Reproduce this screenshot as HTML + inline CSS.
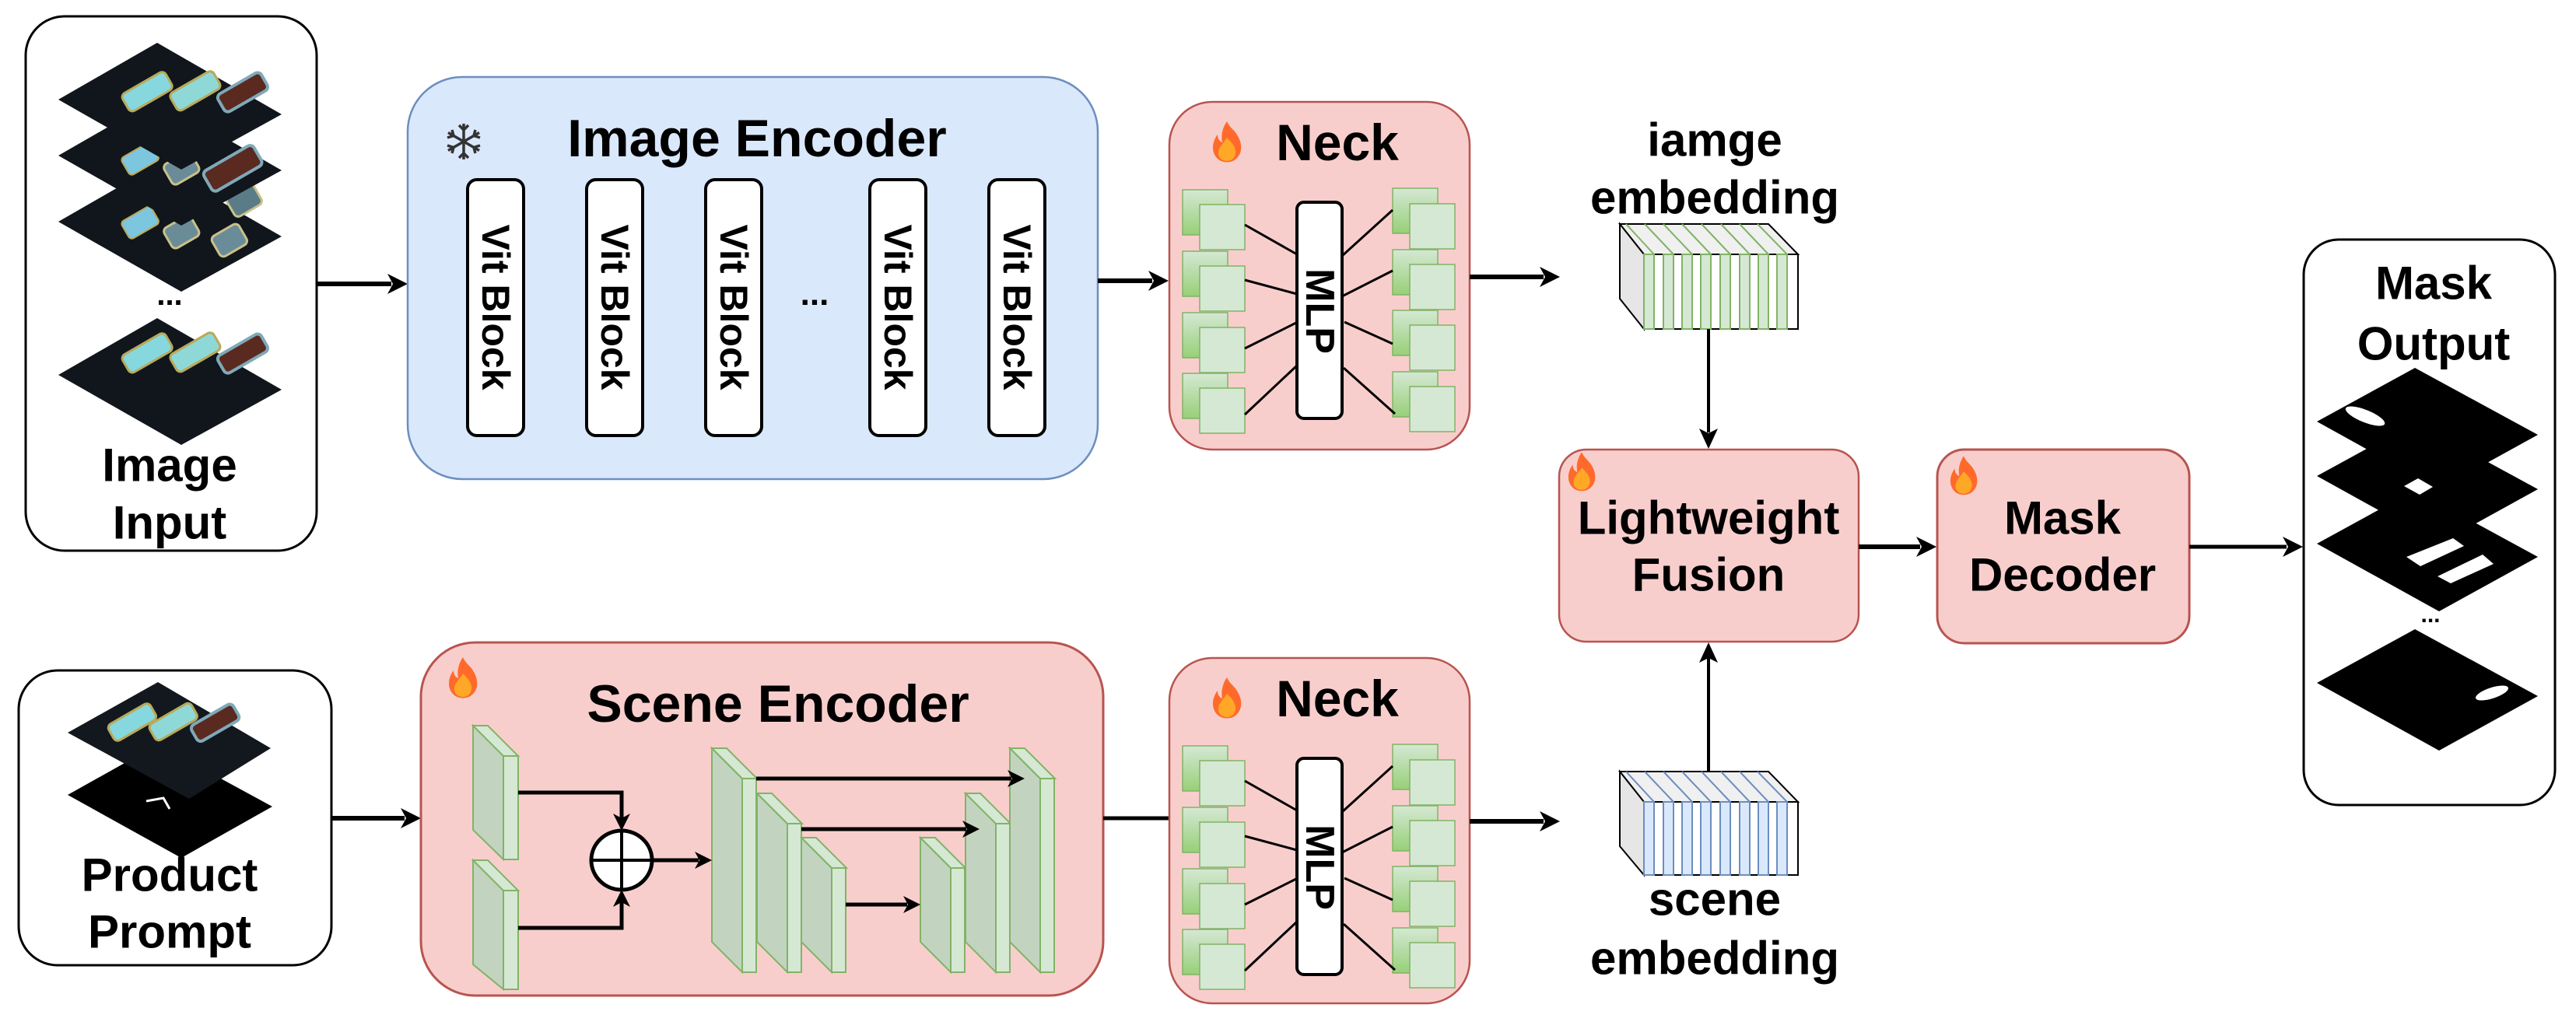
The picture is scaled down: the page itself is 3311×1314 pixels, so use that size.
<!DOCTYPE html>
<html><head><meta charset="utf-8">
<style>
html,body{margin:0;padding:0;background:#fff;}
svg{display:block;}
text{font-family:"Liberation Sans",Arial,sans-serif;font-weight:bold;fill:#000;}
</style></head>
<body>
<svg width="3311" height="1314" viewBox="0 0 3311 1314" xmlns="http://www.w3.org/2000/svg">
<defs>
  <g id="flame">
    <path d="M0,-27 C4,-18 10,-16 14,-8 C20,2 20,14 12,21 C6,27 -6,27 -12,21 C-20,14 -20,0 -12,-10 C-12,-4 -9,-1 -6,0 C-8,-10 -5,-20 0,-27Z" fill="#ff6a2b"/>
    <path d="M0,-6 C6,0 12,6 11,14 C10,21 5,24 0,24 C-5,24 -11,21 -11,14 C-11,6 -5,2 0,-6Z" fill="#ffa726"/>
  </g>
  <linearGradient id="gsq" x1="0" y1="0" x2="0" y2="1">
    <stop offset="0" stop-color="#d5e8d4"/><stop offset="1" stop-color="#97d077"/>
  </linearGradient>
  <g id="neckInner">
    <rect x="1520" y="244" width="58" height="58" fill="url(#gsq)" stroke="#82b366" stroke-width="1.5"/>
    <rect x="1542" y="263" width="58" height="58" fill="#d5e8d4" stroke="#82b366" stroke-width="1.5"/>
    <rect x="1520" y="323" width="58" height="58" fill="url(#gsq)" stroke="#82b366" stroke-width="1.5"/>
    <rect x="1542" y="342" width="58" height="58" fill="#d5e8d4" stroke="#82b366" stroke-width="1.5"/>
    <rect x="1520" y="402" width="58" height="58" fill="url(#gsq)" stroke="#82b366" stroke-width="1.5"/>
    <rect x="1542" y="421" width="58" height="58" fill="#d5e8d4" stroke="#82b366" stroke-width="1.5"/>
    <rect x="1520" y="480" width="58" height="58" fill="url(#gsq)" stroke="#82b366" stroke-width="1.5"/>
    <rect x="1542" y="499" width="58" height="58" fill="#d5e8d4" stroke="#82b366" stroke-width="1.5"/>
    <rect x="1790" y="242" width="58" height="58" fill="url(#gsq)" stroke="#82b366" stroke-width="1.5"/>
    <rect x="1812" y="262" width="58" height="58" fill="#d5e8d4" stroke="#82b366" stroke-width="1.5"/>
    <rect x="1790" y="321" width="58" height="58" fill="url(#gsq)" stroke="#82b366" stroke-width="1.5"/>
    <rect x="1812" y="340" width="58" height="58" fill="#d5e8d4" stroke="#82b366" stroke-width="1.5"/>
    <rect x="1790" y="399" width="58" height="58" fill="url(#gsq)" stroke="#82b366" stroke-width="1.5"/>
    <rect x="1812" y="418" width="58" height="58" fill="#d5e8d4" stroke="#82b366" stroke-width="1.5"/>
    <rect x="1790" y="478" width="58" height="58" fill="url(#gsq)" stroke="#82b366" stroke-width="1.5"/>
    <rect x="1812" y="497" width="58" height="58" fill="#d5e8d4" stroke="#82b366" stroke-width="1.5"/>
    <g stroke="#000" stroke-width="3">
      <line x1="1600" y1="289" x2="1667" y2="327"/>
      <line x1="1600" y1="360" x2="1667" y2="378"/>
      <line x1="1600" y1="448" x2="1670" y2="413"/>
      <line x1="1600" y1="533" x2="1667" y2="470"/>
      <line x1="1725" y1="329" x2="1790" y2="270"/>
      <line x1="1725" y1="381" x2="1790" y2="348"/>
      <line x1="1728" y1="414" x2="1790" y2="442"/>
      <line x1="1727" y1="473" x2="1793" y2="532"/>
    </g>
    <rect x="1667" y="260" width="58" height="278" rx="9" fill="#fff" stroke="#000" stroke-width="4"/>
  </g>
</defs>

<!-- Image Input -->
<rect x="33" y="21" width="374" height="687" rx="50" fill="#fff" stroke="#000" stroke-width="3"/>
<path d="M75,482 L202,409 L362,501 L233,572 Z" fill="#10161c"/>
<g transform="translate(180,458)">
  <rect x="-22" y="-12" width="64" height="26" rx="6" fill="#86d8de" stroke="#b9a95a" stroke-width="3" transform="rotate(-30)"/>
  <rect x="32" y="18" width="64" height="26" rx="6" fill="#8fd8d8" stroke="#b9a95a" stroke-width="3" transform="rotate(-30)"/>
  <rect x="84" y="50" width="64" height="26" rx="6" fill="#5a2a20" stroke="#7fa9b8" stroke-width="4" transform="rotate(-30)"/>
</g>
<path d="M75,285 L202,212 L362,304 L233,375 Z" fill="#10161c"/>
<g transform="translate(165,280)">
  <rect x="-12" y="0" width="44" height="26" rx="5" fill="#7cc6e0" stroke="#b9a95a" stroke-width="2" transform="rotate(-30)"/>
  <rect x="30" y="35" width="40" height="30" rx="6" fill="#6a8c98" stroke="#c9c08a" stroke-width="3" transform="rotate(-30)"/>
  <rect x="78" y="75" width="40" height="30" rx="6" fill="#6a8c98" stroke="#c9c08a" stroke-width="3" transform="rotate(-30)"/>
  <rect x="120" y="40" width="40" height="30" rx="6" fill="#5a7c88" stroke="#c9c08a" stroke-width="3" transform="rotate(-30)"/>
</g>
<path d="M75,200 L202,127 L362,219 L233,290 Z" fill="#10161c"/>
<g transform="translate(165,198)">
  <rect x="-12" y="0" width="44" height="26" rx="5" fill="#7cc6e0" stroke="#b9a95a" stroke-width="2" transform="rotate(-30)"/>
  <rect x="30" y="35" width="40" height="30" rx="6" fill="#6a8c98" stroke="#c9c08a" stroke-width="3" transform="rotate(-30)"/>
  <rect x="70" y="68" width="74" height="30" rx="6" fill="#5a2a20" stroke="#7fa9b8" stroke-width="4" transform="rotate(-30)"/>
</g>
<path d="M75,128 L202,55 L362,147 L233,218 Z" fill="#10161c"/>
<g transform="translate(180,122)">
  <rect x="-22" y="-12" width="64" height="26" rx="6" fill="#86d8de" stroke="#b9a95a" stroke-width="3" transform="rotate(-30)"/>
  <rect x="32" y="18" width="64" height="26" rx="6" fill="#8fd8d8" stroke="#b9a95a" stroke-width="3" transform="rotate(-30)"/>
  <rect x="84" y="50" width="64" height="26" rx="6" fill="#5a2a20" stroke="#7fa9b8" stroke-width="4" transform="rotate(-30)"/>
</g>
<text x="218" y="392" font-size="40" text-anchor="middle">...</text>
<text x="218" y="598" font-size="60" text-anchor="middle" dominant-baseline="central">Image</text>
<text x="218" y="672" font-size="60" text-anchor="middle" dominant-baseline="central">Input</text>

<line x1="407" y1="365" x2="503" y2="365" stroke="#000" stroke-width="6"/>
<polygon points="524,365 498,352 505,365 498,378" fill="#000"/>

<!-- Image Encoder -->
<rect x="524" y="99" width="887" height="517" rx="70" fill="#dae8fc" stroke="#6c8ebf" stroke-width="2.5"/>
<g stroke="#333" stroke-width="3.5" fill="none" transform="translate(596,182)">
  <line x1="0" y1="-23" x2="0" y2="23"/>
  <line x1="-20" y1="-11.5" x2="20" y2="11.5"/>
  <line x1="-20" y1="11.5" x2="20" y2="-11.5"/>
  <polyline points="-6,-21 0,-15 6,-21"/>
  <polyline points="-6,21 0,15 6,21"/>
  <polyline points="-21,-5 -13,-7.5 -15,-15"/>
  <polyline points="21,5 13,7.5 15,15"/>
  <polyline points="-21,5 -13,7.5 -15,15"/>
  <polyline points="21,-5 13,-7.5 15,-15"/>
</g>
<text x="973" y="178" font-size="68" text-anchor="middle" dominant-baseline="central">Image Encoder</text>
<g fill="#fff" stroke="#000" stroke-width="4">
  <rect x="601" y="231" width="72" height="329" rx="12"/>
  <rect x="754" y="231" width="72" height="329" rx="12"/>
  <rect x="907" y="231" width="72" height="329" rx="12"/>
  <rect x="1118" y="231" width="72" height="329" rx="12"/>
  <rect x="1271" y="231" width="72" height="329" rx="12"/>
</g>
<g font-size="50" text-anchor="middle" dominant-baseline="central">
  <text transform="translate(637,395) rotate(90)">Vit Block</text>
  <text transform="translate(790,395) rotate(90)">Vit Block</text>
  <text transform="translate(943,395) rotate(90)">Vit Block</text>
  <text transform="translate(1154,395) rotate(90)">Vit Block</text>
  <text transform="translate(1307,395) rotate(90)">Vit Block</text>
</g>
<text x="1047" y="392" font-size="44" text-anchor="middle">...</text>

<line x1="1411" y1="361" x2="1481" y2="361" stroke="#000" stroke-width="6"/>
<polygon points="1502,361 1476,348 1483,361 1476,374" fill="#000"/>

<!-- Neck top -->
<rect x="1503" y="131" width="386" height="447" rx="55" fill="#f8cecc" stroke="#b85450" stroke-width="2.5"/>
<use href="#flame" transform="translate(1577,183)"/>
<text x="1719" y="183" font-size="66" text-anchor="middle" dominant-baseline="central">Neck</text>
<use href="#neckInner"/>
<text transform="translate(1696,400) rotate(90)" font-size="52" text-anchor="middle" dominant-baseline="central">MLP</text>

<line x1="1889" y1="356" x2="1984" y2="356" stroke="#000" stroke-width="6"/>
<polygon points="2005,356 1979,343 1986,356 1979,369" fill="#000"/>

<!-- image embedding -->
<text x="2204" y="180" font-size="60" text-anchor="middle" dominant-baseline="central">iamge</text>
<text x="2204" y="254" font-size="60" text-anchor="middle" dominant-baseline="central">embedding</text>
<g>
  <polygon points="2082,288 2273,288 2311,327 2113,327" fill="#f0f0f0" stroke="#000" stroke-width="2"/>
  <polygon points="2082,288 2113,327 2113,423 2082,384" fill="#e6e6e6" stroke="#000" stroke-width="2"/>
  <rect x="2113" y="327" width="198" height="96" fill="#fff" stroke="#000" stroke-width="2"/>
  <g fill="#d5e8d4" stroke="#82b366" stroke-width="2">
    <rect x="2113" y="327" width="13" height="96"/><rect x="2138" y="327" width="13" height="96"/>
    <rect x="2162" y="327" width="13" height="96"/><rect x="2186" y="327" width="13" height="96"/>
    <rect x="2211" y="327" width="13" height="96"/><rect x="2236" y="327" width="13" height="96"/>
    <rect x="2260" y="327" width="13" height="96"/><rect x="2284" y="327" width="13" height="96"/>
  </g>
  <g stroke="#82b366" stroke-width="2">
    <line x1="2090" y1="288" x2="2126" y2="327"/><line x1="2114" y1="288" x2="2151" y2="327"/>
    <line x1="2138" y1="288" x2="2175" y2="327"/><line x1="2162" y1="288" x2="2199" y2="327"/>
    <line x1="2187" y1="288" x2="2224" y2="327"/><line x1="2212" y1="288" x2="2249" y2="327"/>
    <line x1="2236" y1="288" x2="2273" y2="327"/><line x1="2259" y1="288" x2="2297" y2="327"/>
  </g>
</g>
<line x1="2196" y1="423" x2="2196" y2="556" stroke="#000" stroke-width="4"/>
<polygon points="2196,577 2184,551 2196,557 2208,551" fill="#000"/>

<!-- Lightweight Fusion -->
<rect x="2004" y="578" width="385" height="247" rx="35" fill="#f8cecc" stroke="#b85450" stroke-width="2.5"/>
<use href="#flame" transform="translate(2033,607) scale(0.95)"/>
<text x="2196" y="666" font-size="60" text-anchor="middle" dominant-baseline="central">Lightweight</text>
<text x="2196" y="739" font-size="60" text-anchor="middle" dominant-baseline="central">Fusion</text>

<line x1="2389" y1="703" x2="2468" y2="703" stroke="#000" stroke-width="6"/>
<polygon points="2489,703 2463,690 2470,703 2463,716" fill="#000"/>

<!-- Mask Decoder -->
<rect x="2490" y="578" width="324" height="249" rx="35" fill="#f8cecc" stroke="#b85450" stroke-width="3"/>
<use href="#flame" transform="translate(2524,612) scale(0.95)"/>
<text x="2651" y="666" font-size="60" text-anchor="middle" dominant-baseline="central">Mask</text>
<text x="2651" y="739" font-size="60" text-anchor="middle" dominant-baseline="central">Decoder</text>

<line x1="2814" y1="703" x2="2939" y2="703" stroke="#000" stroke-width="5"/>
<polygon points="2960,703 2934,690 2941,703 2934,716" fill="#000"/>

<!-- Mask Output -->
<rect x="2961" y="308" width="323" height="727" rx="45" fill="#fff" stroke="#000" stroke-width="3"/>
<text x="3128" y="364" font-size="60" text-anchor="middle" dominant-baseline="central">Mask</text>
<text x="3128" y="442" font-size="60" text-anchor="middle" dominant-baseline="central">Output</text>
<path d="M2978,878 L3104,809 L3262,895 L3135,965 Z" fill="#000"/>
<ellipse cx="3203" cy="891" rx="22" ry="7" fill="#fff" transform="rotate(-18 3203 891)"/>
<path d="M2978,699 L3104,630 L3262,716 L3135,786 Z" fill="#000"/>
<polygon points="3093,716 3153,692 3167,702 3111,728" fill="#fff"/>
<polygon points="3133,741 3191,713 3205,725 3150,750" fill="#fff"/>
<path d="M2978,612 L3104,543 L3262,629 L3135,699 Z" fill="#000"/>
<polygon points="3090,625 3108,615 3127,626 3110,636" fill="#fff"/>
<path d="M2978,542 L3104,473 L3262,559 L3135,629 Z" fill="#000"/>
<ellipse cx="3040" cy="535" rx="27" ry="8" fill="#fff" transform="rotate(22 3040 535)"/>
<text x="3124" y="800" font-size="30" text-anchor="middle">...</text>

<!-- Product Prompt -->
<rect x="24" y="862" width="402" height="379" rx="50" fill="#fff" stroke="#000" stroke-width="3"/>
<path d="M87,1022 L203,957 L350,1037 L233,1103 Z" fill="#000"/>
<path d="M188,1030 L210,1026 L218,1040" fill="none" stroke="#fff" stroke-width="3"/>
<path d="M87,942 L203,877 L348,962 L243,1027 Z" fill="#12181e"/>
<g transform="translate(150,940)">
  <rect x="-8" y="-12" width="62" height="24" rx="6" fill="#86d8de" stroke="#b9a95a" stroke-width="3" transform="rotate(-30)"/>
  <rect x="38" y="14" width="62" height="24" rx="6" fill="#8fd8d8" stroke="#b9a95a" stroke-width="3" transform="rotate(-30)"/>
  <rect x="84" y="42" width="62" height="24" rx="6" fill="#5a2a20" stroke="#7fa9b8" stroke-width="4" transform="rotate(-30)"/>
</g>
<text x="218" y="1125" font-size="60" text-anchor="middle" dominant-baseline="central">Product</text>
<text x="218" y="1198" font-size="60" text-anchor="middle" dominant-baseline="central">Prompt</text>

<line x1="426" y1="1052" x2="520" y2="1052" stroke="#000" stroke-width="6"/>
<polygon points="541,1052 515,1039 522,1052 515,1065" fill="#000"/>

<!-- Scene Encoder -->
<rect x="541" y="826" width="877" height="454" rx="70" fill="#f8cecc" stroke="#b85450" stroke-width="3"/>
<use href="#flame" transform="translate(595,872)"/>
<text x="1000" y="905" font-size="68" text-anchor="middle" dominant-baseline="central">Scene Encoder</text>

<g stroke="#82b366" stroke-width="2">
  <polygon points="608,933 647,972 647,1105 608,1067" fill="#c2d4bf"/>
  <polygon points="608,933 627,933 666,972 647,972" fill="#d5e8d4"/>
  <rect x="647" y="972" width="19" height="133" fill="#d5e8d4"/>
  <polygon points="608,1106 647,1145 647,1272 608,1240" fill="#c2d4bf"/>
  <polygon points="608,1106 627,1106 666,1145 647,1145" fill="#d5e8d4"/>
  <rect x="647" y="1145" width="19" height="127" fill="#d5e8d4"/>
  <polygon points="915,962 954,1001 954,1250 915,1211" fill="#c2d4bf"/>
  <polygon points="915,962 934,962 973,1001 954,1001" fill="#d5e8d4"/>
  <rect x="954" y="1001" width="18" height="249" fill="#d5e8d4"/>
  <polygon points="973,1020 1012,1059 1012,1250 973,1211" fill="#c2d4bf"/>
  <polygon points="973,1020 992,1020 1031,1059 1012,1059" fill="#d5e8d4"/>
  <rect x="1012" y="1059" width="18" height="191" fill="#d5e8d4"/>
  <polygon points="1030,1077 1069,1116 1069,1250 1030,1211" fill="#c2d4bf"/>
  <polygon points="1030,1077 1049,1077 1088,1116 1069,1116" fill="#d5e8d4"/>
  <rect x="1069" y="1116" width="18" height="134" fill="#d5e8d4"/>
  <polygon points="1183,1077 1222,1116 1222,1250 1183,1211" fill="#c2d4bf"/>
  <polygon points="1183,1077 1202,1077 1241,1116 1222,1116" fill="#d5e8d4"/>
  <rect x="1222" y="1116" width="18" height="134" fill="#d5e8d4"/>
  <polygon points="1241,1020 1280,1059 1280,1250 1241,1211" fill="#c2d4bf"/>
  <polygon points="1241,1020 1260,1020 1299,1059 1280,1059" fill="#d5e8d4"/>
  <rect x="1280" y="1059" width="18" height="191" fill="#d5e8d4"/>
  <polygon points="1298,962 1337,1001 1337,1250 1298,1211" fill="#c2d4bf"/>
  <polygon points="1298,962 1317,962 1356,1001 1337,1001" fill="#d5e8d4"/>
  <rect x="1337" y="1001" width="18" height="249" fill="#d5e8d4"/>
</g>
<g fill="none" stroke="#000" stroke-width="5">
  <polyline points="666,1019 799,1019 799,1052"/>
  <polyline points="666,1193 799,1193 799,1160"/>
  <line x1="839" y1="1106" x2="898" y2="1106"/>
  <line x1="972" y1="1001" x2="1300" y2="1001"/>
  <line x1="1030" y1="1066" x2="1242" y2="1066"/>
  <line x1="1087" y1="1163" x2="1166" y2="1163"/>
</g>
<g fill="#000">
  <polygon points="799,1068 788,1046 799,1052 810,1046"/>
  <polygon points="799,1144 788,1166 799,1160 810,1166"/>
  <polygon points="915,1106 893,1095 899,1106 893,1117"/>
  <polygon points="1317,1001 1295,990 1301,1001 1295,1012"/>
  <polygon points="1259,1066 1237,1055 1243,1066 1237,1077"/>
  <polygon points="1183,1163 1161,1152 1167,1163 1161,1174"/>
</g>
<ellipse cx="799" cy="1106" rx="39" ry="38" fill="#fff" stroke="#000" stroke-width="5"/>
<line x1="760" y1="1106" x2="838" y2="1106" stroke="#000" stroke-width="4"/>
<line x1="799" y1="1068" x2="799" y2="1144" stroke="#000" stroke-width="4"/>

<line x1="1418" y1="1052" x2="1503" y2="1052" stroke="#000" stroke-width="5"/>

<!-- Neck bottom -->
<rect x="1503" y="846" width="386" height="444" rx="55" fill="#f8cecc" stroke="#b85450" stroke-width="2.5"/>
<use href="#flame" transform="translate(1577,898)"/>
<text x="1719" y="898" font-size="66" text-anchor="middle" dominant-baseline="central">Neck</text>
<use href="#neckInner" transform="translate(0,715)"/>
<text transform="translate(1696,1115) rotate(90)" font-size="52" text-anchor="middle" dominant-baseline="central">MLP</text>

<line x1="1889" y1="1056" x2="1984" y2="1056" stroke="#000" stroke-width="6"/>
<polygon points="2005,1056 1979,1043 1986,1056 1979,1069" fill="#000"/>

<!-- scene embedding -->
<g>
  <polygon points="2082,992 2273,992 2311,1031 2113,1031" fill="#f0f0f0" stroke="#000" stroke-width="2"/>
  <polygon points="2082,992 2113,1031 2113,1125 2082,1088" fill="#e6e6e6" stroke="#000" stroke-width="2"/>
  <rect x="2113" y="1031" width="198" height="94" fill="#fff" stroke="#000" stroke-width="2"/>
  <g fill="#dae8fc" stroke="#6c8ebf" stroke-width="2">
    <rect x="2113" y="1031" width="13" height="94"/><rect x="2138" y="1031" width="13" height="94"/>
    <rect x="2162" y="1031" width="13" height="94"/><rect x="2186" y="1031" width="13" height="94"/>
    <rect x="2211" y="1031" width="13" height="94"/><rect x="2236" y="1031" width="13" height="94"/>
    <rect x="2260" y="1031" width="13" height="94"/><rect x="2284" y="1031" width="13" height="94"/>
  </g>
  <g stroke="#6c8ebf" stroke-width="2">
    <line x1="2090" y1="992" x2="2126" y2="1031"/><line x1="2114" y1="992" x2="2151" y2="1031"/>
    <line x1="2138" y1="992" x2="2175" y2="1031"/><line x1="2162" y1="992" x2="2199" y2="1031"/>
    <line x1="2187" y1="992" x2="2224" y2="1031"/><line x1="2212" y1="992" x2="2249" y2="1031"/>
    <line x1="2236" y1="992" x2="2273" y2="1031"/><line x1="2259" y1="992" x2="2297" y2="1031"/>
  </g>
</g>
<line x1="2196" y1="992" x2="2196" y2="846" stroke="#000" stroke-width="4"/>
<polygon points="2196,826 2184,852 2196,846 2208,852" fill="#000"/>
<text x="2204" y="1156" font-size="60" text-anchor="middle" dominant-baseline="central">scene</text>
<text x="2204" y="1232" font-size="60" text-anchor="middle" dominant-baseline="central">embedding</text>
</svg>
</body></html>
